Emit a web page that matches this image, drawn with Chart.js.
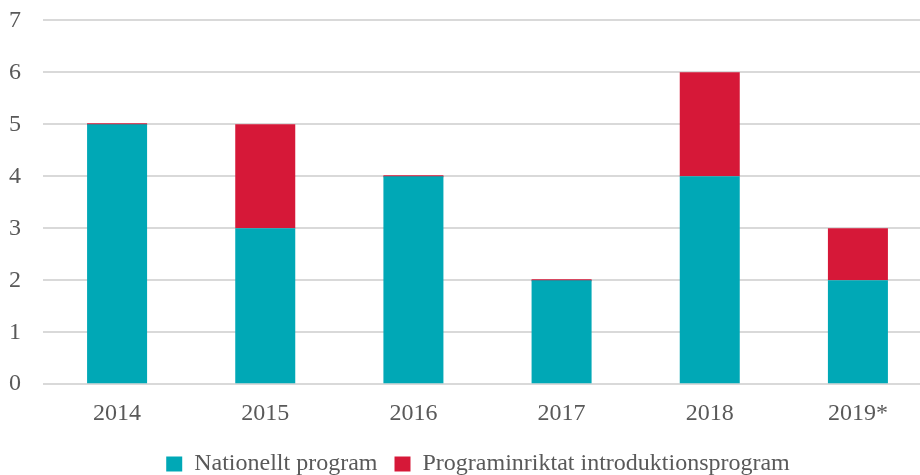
<!DOCTYPE html>
<html>
<head>
<meta charset="utf-8">
<script src="https://cdn.jsdelivr.net/npm/chart.js@4"></script>
<style>
  html, body { margin: 0; padding: 0; background: #fff; overflow: hidden; }
  #wrap { width: 932px; height: 491px; margin-top: -16px; }
</style>
</head>
<body>
<div id="wrap"><canvas id="myChart"></canvas></div>
<script>
  const years = ['2014', '2015', '2016', '2017', '2018', '2019*']
  const nationellt = [5, 3, 4, 2, 4, 2]
  const programinriktat = [0, 2, 0, 0, 2, 1]

  const ctx = document.getElementById('myChart')
  const font = { family: "'Liberation Serif', 'Times New Roman', serif", size: 24 }

  // nudge the legend a bit to the right, under the plot area
  const legendShift = {
    id: 'legendShift',
    afterLayout(chart) {
      chart.legend.left += 12
      chart.legend.right += 12
    }
  }

  new Chart(ctx, {
    type: 'bar',
    data: {
      labels: years,
      datasets: [{
        label: 'Nationellt program',
        data: nationellt,
        backgroundColor: '#00A8B6',
        barPercentage: 0.405,
        categoryPercentage: 1
      },
      {
        label: 'Programinriktat introduktionsprogram',
        data: programinriktat,
        backgroundColor: '#D61838',
        barPercentage: 0.405,
        categoryPercentage: 1,
        minBarLength: 2
      }]
    },
    plugins: [legendShift],
    options: {
      responsive: true,
      maintainAspectRatio: false,
      animation: false,
      layout: { padding: { top: 0, left: 0, right: 0, bottom: -11 } },
      plugins: {
        tooltip: { enabled: false },
        legend: {
          position: 'bottom',
          labels: {
            font: font,
            color: '#595959',
            boxWidth: 16,
            boxHeight: 15,
            padding: 17
          }
        }
      },
      scales: {
        x: {
          stacked: true,
          grid: { display: false },
          border: { display: false },
          ticks: { font: font, color: '#595959', padding: 7 }
        },
        y: {
          stacked: true,
          min: 0,
          max: 7,
          afterFit: (scale) => { scale.width = 43 },
          ticks: { stepSize: 1, font: font, color: '#595959', padding: 22 },
          grid: { color: '#D9D9D9', lineWidth: 2, drawTicks: false },
          border: { display: false }
        }
      }
    }
  })
</script>
</body>
</html>
